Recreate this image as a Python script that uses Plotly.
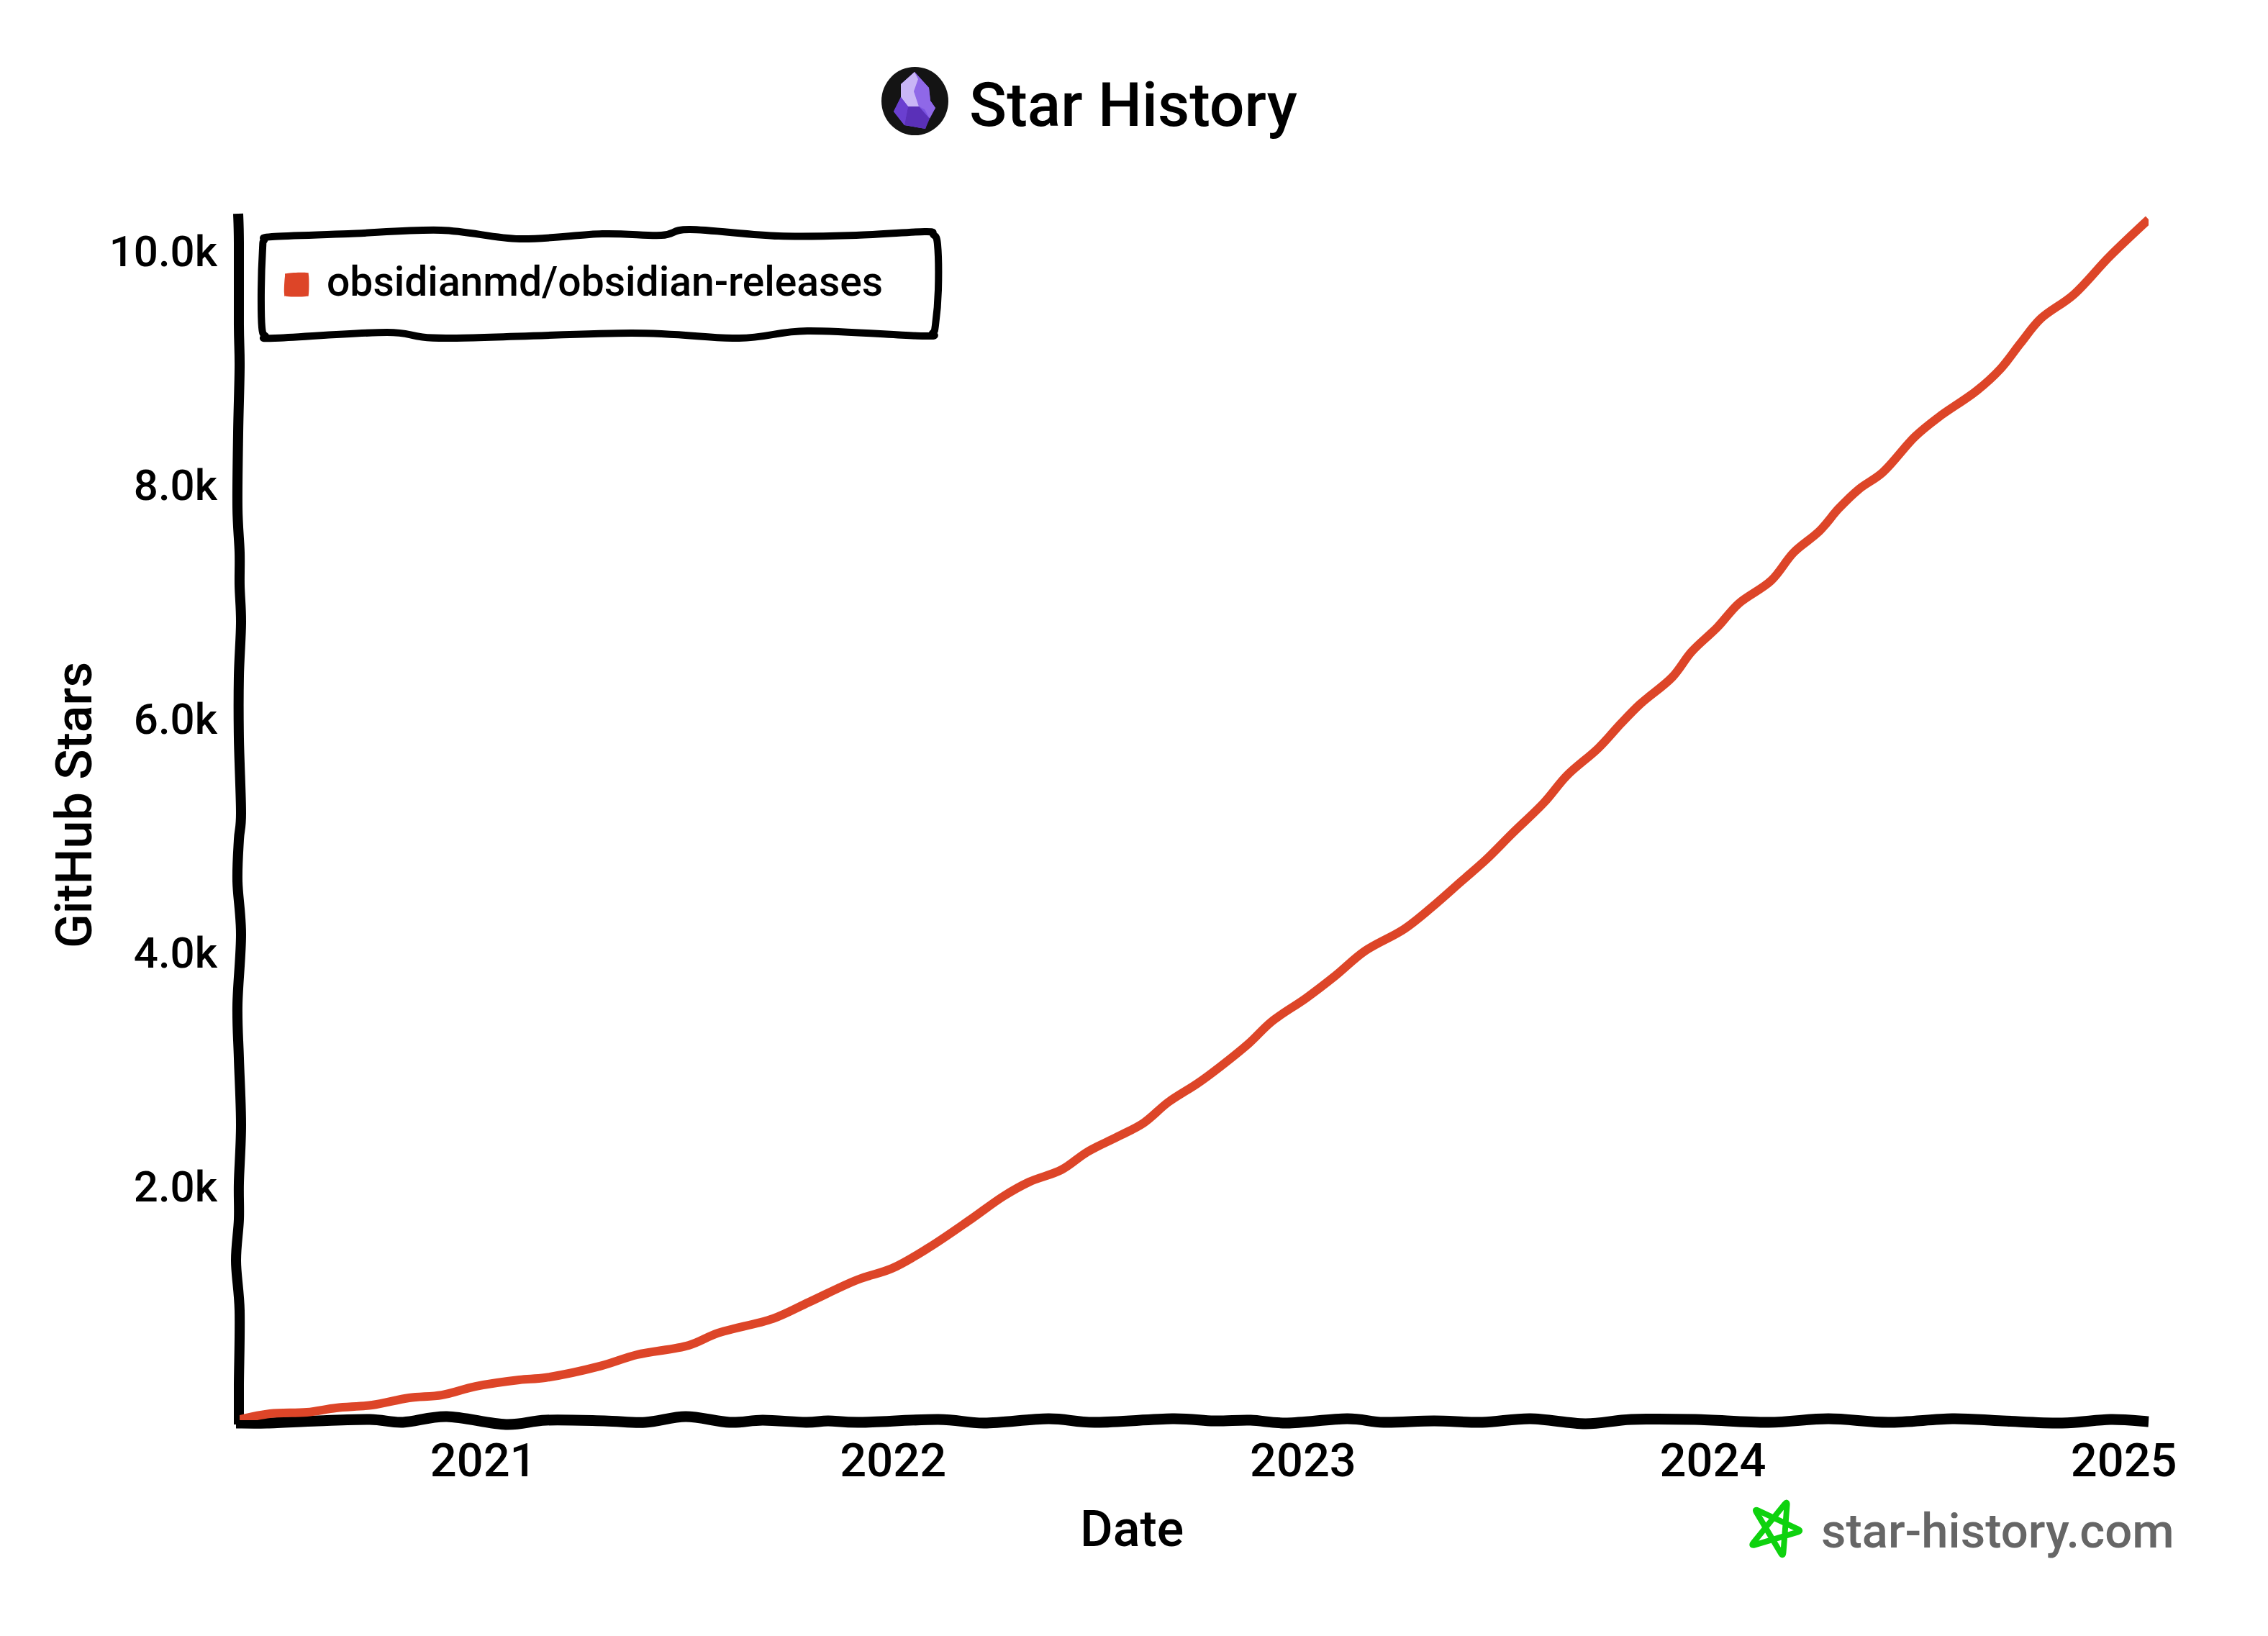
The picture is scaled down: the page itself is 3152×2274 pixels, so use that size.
import plotly.graph_objects as go

# ---- data ----
series_name = "obsidianmd/obsidian-releases"
dates = ["2020-05-29","2020-06-25","2020-07-28","2020-08-23","2020-09-24","2020-10-27","2020-11-25","2020-12-25",
 "2021-02-02","2021-02-25","2021-04-15","2021-05-18","2021-07-03","2021-07-29","2021-09-16","2021-10-18","2021-11-30","2021-12-31",
 "2022-02-01","2022-03-11","2022-04-09","2022-05-02","2022-05-31","2022-06-23","2022-07-20","2022-08-12","2022-09-03","2022-09-29","2022-10-19","2022-11-14","2022-12-04",
 "2023-01-04","2023-01-30","2023-02-25","2023-04-01","2023-04-26","2023-05-22","2023-06-13","2023-07-06","2023-08-04","2023-08-24","2023-09-21","2023-10-11","2023-10-28","2023-11-26","2023-12-13",
 "2024-01-05","2024-01-24","2024-02-22","2024-03-13","2024-04-05","2024-04-22","2024-05-10","2024-05-31","2024-06-29","2024-07-20","2024-08-23","2024-09-13","2024-10-01","2024-10-19","2024-11-17","2024-12-19",
 "2025-01-23"]
stars = [5,55,68,105,129,191,215,289,
 345,363,462,560,640,745,868,1009,1200,1298,
 1471,1717,1914,2037,2142,2295,2425,2542,2720,2880,3022,3225,3409,
 3612,3803,4012,4200,4390,4609,4794,5015,5286,5514,5748,5957,6123,6357,6572,
 6782,6985,7182,7422,7606,7797,7963,8105,8413,8579,8806,8991,9212,9422,9625,9951,
 10271]
x_tick_vals = ["2021-01-01","2022-01-01","2023-01-01","2024-01-01","2025-01-01"]
x_tick_text = ["2021","2022","2023","2024","2025"]
y_tick_vals = [2000,4000,6000,8000,10000]
y_tick_text = ["2.0k","4.0k","6.0k","8.0k","10.0k"]

# ---- page geometry ----
W, H = 3152, 2274
L, R, T, B = 333, 2986, 297, 1974
FONT = "Roboto, Liberation Sans, sans-serif"
RED = "#dd4528"

def px(x): return (x - L) / (R - L)
def py(y): return (B - y) / (B - T)

def smooth(pts, closed=False):
    """Catmull-Rom path through hand-traced decoration points, in paper coordinates."""
    n = len(pts)
    def g(i):
        return pts[i % n] if closed else pts[max(0, min(n - 1, i))]
    d = f"M {px(pts[0][0]):.5f},{py(pts[0][1]):.5f}"
    for i in range(n if closed else n - 1):
        p0, p1, p2, p3 = g(i - 1), g(i), g(i + 1), g(i + 2)
        c1 = (p1[0] + (p2[0] - p0[0]) / 6, p1[1] + (p2[1] - p0[1]) / 6)
        c2 = (p2[0] - (p3[0] - p1[0]) / 6, p2[1] - (p3[1] - p1[1]) / 6)
        d += f" C {px(c1[0]):.5f},{py(c1[1]):.5f} {px(c2[0]):.5f},{py(c2[1]):.5f} {px(p2[0]):.5f},{py(p2[1]):.5f}"
    return d + (" Z" if closed else "")

def poly(pts):
    return "M " + " L ".join(f"{px(a):.5f},{py(b):.5f}" for a, b in pts) + " Z"

def rounded(pts, r=6):
    """Closed polygon with softened corners."""
    n = len(pts)
    d = ""
    for i in range(n):
        a, v, b = pts[i - 1], pts[i], pts[(i + 1) % n]
        def toward(p):
            dx, dy = p[0] - v[0], p[1] - v[1]
            ln = (dx * dx + dy * dy) ** 0.5
            return (v[0] + dx * r / ln, v[1] + dy * r / ln)
        s, e = toward(a), toward(b)
        d += ("M " if i == 0 else " L ") + f"{px(s[0]):.5f},{py(s[1]):.5f}"
        d += f" Q {px(v[0]):.5f},{py(v[1]):.5f} {px(e[0]):.5f},{py(e[1]):.5f}"
    return d + " Z"

def path(d, color=None, width=0, fill=None, layer="below"):
    return dict(type="path", xref="paper", yref="paper", path=d, layer=layer,
                line=dict(color=color or "rgba(0,0,0,0)", width=width),
                fillcolor=fill or "rgba(0,0,0,0)")

# hand-drawn outlines
left_axis = [(331,297),(332,337),(332,452),(333,510),(331,601),(330,705),(333,768),(333,814),(335,866),(332,940),
             (332,1026),(335,1130),(332,1167),(330,1225),(335,1299),(330,1397),(332,1471),(335,1563),(332,1644),
             (332,1695),(328,1753),(333,1822),(332,1925),(332,1980)]
bottom_axis = [(328,1978),(371,1978),(442,1975),(514,1973),(560,1977),(621,1969),(703,1980),(759,1974),(840,1975),(897,1977),
               (953,1969),(1014,1977),(1060,1974),(1120,1977),(1151,1975),(1196,1977),(1304,1973),(1368,1978),(1457,1972),
               (1521,1977),(1629,1972),(1687,1975),(1738,1974),(1789,1978),(1872,1972),(1923,1977),(1993,1975),(2060,1977),
               (2127,1972),(2203,1979),(2267,1973),(2356,1973),(2458,1977),(2541,1972),(2624,1977),(2713,1972),(2783,1975),
               (2866,1978),(2933,1973),(2986,1976)]
legend_box = [(378,329),(484,325),(613,320),(722,332),(837,325),(919,327),(959,319),(1082,328),(1190,327),(1285,322),
              (1297,326),(1303,340),(1304,403),(1300,452),(1296,463),(1282,467),(1122,460),(1027,470),(878,463),(620,470),(538,462),(382,470),
              (369,467),(364,455),(363,403),(365,345),(367,334)]
swatch = [(399,380),(425,379),(429,383),(429,408),(425,412),(399,412),(395,408),(396,384)]
star_mark = [(2484,2086),(2433,2149),(2504,2128),(2438,2097),(2478,2164)]
gem_outline = [(1271,100),(1291,122),(1293,140),(1300,150),(1289,168),(1286,179),(1257,174),(1242,155),(1252,135),(1252,117)]
gem_light = [(1271,100),(1252,117),(1252,135),(1262,148),(1277,148),(1270,127),(1276,110)]
gem_right = [(1271,100),(1291,122),(1293,140),(1300,150),(1292,165),(1285,152),(1277,148),(1270,127),(1276,110)]
gem_left = [(1252,135),(1242,155),(1257,174),(1262,148)]
gem_low = [(1262,148),(1277,148),(1292,165),(1286,179),(1257,174)]

shapes = [
    path(smooth(left_axis), "#000", 14),
    path(smooth(bottom_axis), "#000", 15),
    path(smooth(legend_box, True), "#000", 10, "#ffffff"),
    path(smooth(swatch, True), None, 0, RED),
    dict(type="circle", xref="paper", yref="paper", x0=px(1225), x1=px(1318), y0=py(188), y1=py(93),
         fillcolor="#141414", line=dict(width=0), layer="below"),
    path(poly(gem_outline), None, 0, "#7a52e0"),
    path(poly(gem_right), None, 0, "#8f68e8"),
    path(poly(gem_light), None, 0, "#c9b6f6"),
    path(poly(gem_left), None, 0, "#6a3fd0"),
    path(poly(gem_low), None, 0, "#5a30b8"),
    path(rounded(star_mark), "#0ed20e", 8),
]

black = dict(family=FONT, size=70, color="#000", weight=500)
annotations = [
    dict(text=series_name, xref="paper", yref="paper", x=px(452), y=py(391), xanchor="left", yanchor="middle",
         showarrow=False, font=dict(family=FONT, size=57, color="#000", weight=500)),
    dict(text="star-history.com", xref="paper", yref="paper", x=px(3024), y=py(2128), xanchor="right", yanchor="middle",
         showarrow=False, font=dict(family=FONT, size=67, color="#666666", weight=500)),
    dict(text="Date", xref="paper", yref="paper", x=px(1573), y=py(2125), xanchor="center", yanchor="middle",
         showarrow=False, font=black),
    dict(text="GitHub Stars", xref="paper", yref="paper", x=px(103), y=py(1119), xanchor="center", yanchor="middle",
         textangle=-90, showarrow=False, font=black),
]

fig = go.Figure(go.Scatter(x=dates, y=stars, mode="lines", name=series_name, cliponaxis=False,
                           line=dict(color=RED, width=12, shape="spline", smoothing=1.0)))
fig.update_layout(
    width=W, height=H, margin=dict(l=L, r=W - R, t=T, b=H - B, autoexpand=False),
    paper_bgcolor="#ffffff", plot_bgcolor="rgba(0,0,0,0)", showlegend=False,
    title=dict(text="Star History", x=1575 / W, y=1 - 145 / H, xanchor="center", yanchor="middle", xref="container",
               font=dict(family=FONT, size=86, color="#000", weight=500)),
    shapes=shapes, annotations=annotations,
    font=dict(family=FONT, color="#000"),
)
fig.update_xaxes(type="date", range=["2020-05-29", "2025-01-23"], tickmode="array", tickvals=x_tick_vals, ticktext=x_tick_text,
                 showgrid=False, zeroline=False, showline=False, ticks="", ticklabelstandoff=12,
                 tickfont=dict(family=FONT, size=65, color="#000", weight=500), automargin=False)
fig.update_yaxes(range=[0, (B - T) * 2000 / 325], tickmode="array", tickvals=y_tick_vals, ticktext=y_tick_text,
                 showgrid=False, zeroline=False, showline=False, ticks="outside", ticklen=18, tickcolor="rgba(0,0,0,0)",
                 tickfont=dict(family=FONT, size=60, color="#000", weight=500), automargin=False)
fig.write_html("out.html", config={"displayModeBar": False}, post_script="document.body.style.margin='0';")
